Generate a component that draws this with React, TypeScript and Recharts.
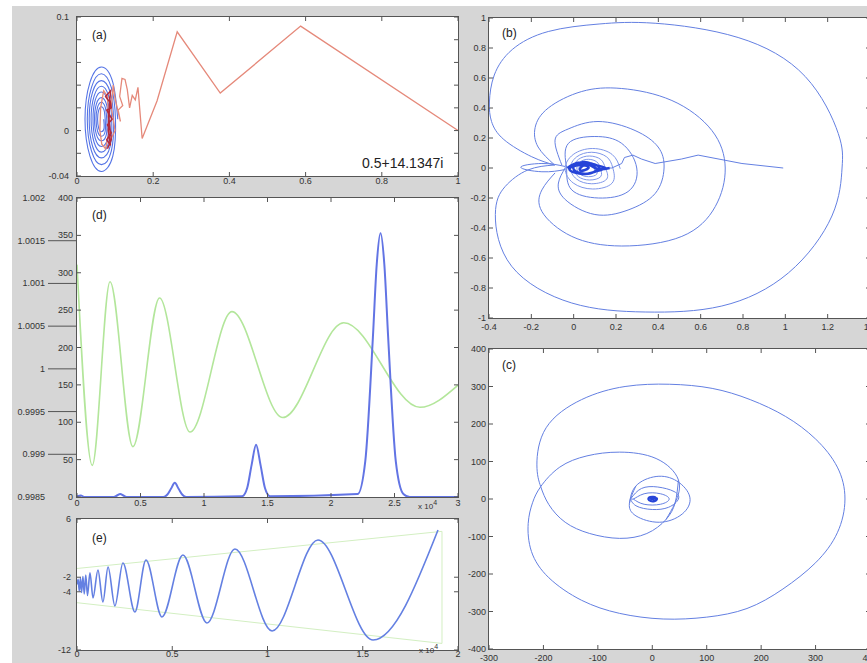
import React from 'react';
import { LineChart, Line, XAxis, YAxis } from 'recharts';

// ---------- data ----------
type Pt = { x: number; y: number };
const toPts = (arr: number[][]): Pt[] => arr.map(([x, y]) => ({ x, y }));

// (a) partial-sum path at s = 0.5+14.1347i
const aSpiral: number[][] = [
  [0.107, 0.010], [0.094, 0.0425], [0.064, 0.056], [0.034, 0.0425], [0.021, 0.010], [0.034, -0.0225], [0.064, -0.036], [0.094, -0.0225],
  [0.101, 0.010], [0.090, 0.038], [0.064, 0.050], [0.038, 0.038], [0.027, 0.010], [0.038, -0.018], [0.064, -0.030], [0.090, -0.018],
  [0.096, 0.010], [0.087, 0.034], [0.064, 0.044], [0.041, 0.034], [0.032, 0.010], [0.041, -0.014], [0.064, -0.024], [0.087, -0.014],
  [0.091, 0.010], [0.083, 0.0305], [0.064, 0.039], [0.045, 0.0305], [0.037, 0.010], [0.045, -0.0105], [0.064, -0.019], [0.083, -0.0105],
  [0.086, 0.010], [0.080, 0.027], [0.064, 0.034], [0.048, 0.027], [0.042, 0.010], [0.048, -0.007], [0.064, -0.014], [0.080, -0.007],
  [0.082, 0.010], [0.077, 0.0235], [0.064, 0.029], [0.051, 0.0235], [0.046, 0.010], [0.051, -0.0035], [0.064, -0.009], [0.077, -0.0035],
  [0.078, 0.010], [0.074, 0.0206], [0.064, 0.025], [0.054, 0.0206], [0.050, 0.010], [0.054, -0.0006], [0.064, -0.005], [0.074, -0.0006],
  [0.074, 0.010], [0.071, 0.018], [0.064, 0.021], [0.057, 0.018], [0.054, 0.010], [0.057, 0.002], [0.064, -0.001], [0.071, 0.002], [0.070, 0.010],
];
const aPath: number[][] = [
  [1.0, 0.0], [0.587, 0.092], [0.376, 0.033], [0.263, 0.087], [0.21, 0.026], [0.171, -0.007], [0.16, 0.038],
  [0.153, 0.027], [0.145, 0.031], [0.138, 0.02], [0.132, 0.036], [0.126, 0.045], [0.118, 0.046], [0.112, 0.03],
  [0.12, 0.022], [0.108, 0.018], [0.114, 0.008], [0.1, 0.028], [0.095, 0.04], [0.09, 0.02], [0.1, 0.0],
  [0.085, -0.01], [0.08, 0.03], [0.07, 0.035], [0.062, 0.02], [0.06, 0.0], [0.065, -0.012], [0.075, -0.016], [0.085, 0.0],
];
const aCore: number[][] = [
  [0.085, 0.03], [0.09, 0.02], [0.078, 0.018], [0.092, 0.01], [0.08, 0.005], [0.09, -0.002], [0.078, -0.008],
  [0.088, -0.013], [0.082, 0.0], [0.086, 0.025], [0.075, 0.03], [0.088, 0.035], [0.083, 0.012], [0.09, -0.008], [0.08, -0.016],
];
const aXTicks = [0, 0.2, 0.4, 0.6, 0.8, 1];
const aXLabels = ['0', '0.2', '0.4', '0.6', '0.8', '1'];
const aYTicks = [-0.04, -0.02, 0, 0.02, 0.04, 0.06, 0.08, 0.1];
const aYLabels = ['-0.04', '', '0', '', '', '', '', '0.1'];

// (b) nested loops of zeta on the unit scale
const bStart: number[][] = [
  [0.99, 0], [0.795, 0.03], [0.588, 0.086], [0.51, 0.06], [0.385, 0.03], [0.32, 0.06], [0.28, 0.086],
  [0.24, 0.07], [0.227, 0.03], [0.18, 0.0], [0.14, 0.0],
];
const bLoop1: number[][] = [
  [-0.09, 0.02], [-0.198, 0.075], [-0.33, 0.19], [-0.388, 0.31], [-0.398, 0.44], [-0.375, 0.62], [-0.29, 0.79],
  [-0.12, 0.91], [0.12, 0.96], [0.385, 0.965], [0.777, 0.87], [1.094, 0.61], [1.25, 0.23], [1.268, 0], [1.22, -0.32],
  [1.014, -0.70], [0.70, -0.92], [0.338, -0.96], [-0.009, -0.90], [-0.293, -0.655], [-0.37, -0.31],
  [-0.324, -0.124], [-0.216, -0.013], [-0.09, 0.02],
];
const bLoop2: number[][] = [
  [-0.09, 0.02], [-0.168, 0.14], [-0.182, 0.27], [-0.12, 0.40], [0.038, 0.51], [0.227, 0.53], [0.464, 0.45],
  [0.653, 0.25], [0.716, 0], [0.669, -0.257], [0.511, -0.456], [0.227, -0.52], [-0.009, -0.456],
  [-0.15, -0.29], [-0.15, -0.146], [-0.088, -0.033],
];
const bLoop3: number[][] = [
  [-0.056, 0.02], [-0.088, 0.186], [-0.026, 0.26], [0.115, 0.31], [0.29, 0.25], [0.399, 0.14], [0.427, 0],
  [0.385, -0.17], [0.257, -0.28], [0.1, -0.31], [-0.04, -0.21], [-0.072, -0.10], [-0.04, 0.0],
];
const bLoop4: number[][] = [
  [-0.033, 0], [-0.025, 0.164], [0.1, 0.21], [0.227, 0.164], [0.298, 0], [0.257, -0.157], [0.117, -0.20],
  [-0.009, -0.146], [-0.033, 0],
];
const bInner: number[][] = [
  [0.22, -0.005], [0.182, 0.09], [0.09, 0.13], [-0.002, 0.09], [-0.04, -0.005], [-0.002, -0.1], [0.09, -0.14], [0.182, -0.1],
  [0.185, 0], [0.156, 0.074], [0.085, 0.105], [0.014, 0.074], [-0.015, 0], [0.014, -0.074], [0.085, -0.105], [0.156, -0.074],
  [0.15, 0], [0.128, 0.057], [0.075, 0.08], [0.022, 0.057], [0.0, 0], [0.022, -0.057], [0.075, -0.08], [0.128, -0.057],
  [0.125, 0], [0.109, 0.041], [0.07, 0.058], [0.031, 0.041], [0.015, 0], [0.031, -0.041], [0.07, -0.058], [0.109, -0.041],
  [0.105, 0], [0.093, 0.028], [0.065, 0.04], [0.037, 0.028], [0.025, 0], [0.037, -0.028], [0.065, -0.04], [0.093, -0.028], [0.1, 0],
];
const bLeft: number[][] = [[-0.04, 0.01], [-0.15, 0.03], [-0.25, 0.005], [-0.15, -0.025], [-0.04, -0.01]];
const bCore: number[][] = [
  [-0.03, 0.0], [0.02, 0.035], [0.08, 0.03], [0.12, 0.005], [0.08, -0.035], [0.02, -0.03], [0.0, 0.01],
  [0.05, 0.04], [0.1, 0.02], [0.15, 0.0], [0.1, -0.025], [0.04, -0.04], [-0.02, -0.01], [0.03, 0.02],
  [0.07, 0.0], [0.03, -0.015], [0.06, 0.025], [0.11, -0.005], [0.17, 0.0],
];
const bXTicks = [-0.4, -0.2, 0, 0.2, 0.4, 0.6, 0.8, 1, 1.2, 1.4];
const bXLabels = ['-0.4', '-0.2', '0', '0.2', '0.4', '0.6', '0.8', '1', '1.2', '1.4'];
const bYTicks = [-1, -0.8, -0.6, -0.4, -0.2, 0, 0.2, 0.4, 0.6, 0.8, 1];
const bYLabels = ['-1', '-0.8', '-0.6', '-0.4', '-0.2', '0', '0.2', '0.4', '0.6', '0.8', '1'];

// (c) the same curve at a larger scale
const cMain: number[][] = [
  [48, 51], [42, -10], [25, -55], [-10, -92], [-60, -105], [-115, -92], [-160, -62], [-190, -15], [-205, 33],
  [-212, 91], [-195, 190], [-130, 265], [-50, 300], [32, 306], [110, 295], [180, 265], [245, 220], [300, 160],
  [340, 85], [354, 0], [340, -90], [300, -170], [240, -240], [174, -292], [100, -315], [20, -320], [-60, -305],
  [-130, -270], [-190, -210], [-222, -140], [-228, -65], [-220, -10], [-205, 33], [-170, 85], [-120, 115],
  [-60, 125], [7, 108], [48, 51], [42, -10], [25, -55],
];
const cMid: number[][] = [
  [-42, -12], [-30, 35], [7, 60], [45, 48], [69, 5], [55, -40], [13, -62], [-30, -45], [-42, -12], [-30, 35],
];
const cEye: number[][] = [
  [-40, 0], [-20, 28], [10, 32], [40, 20], [48, 0], [30, -22], [0, -28], [-30, -18], [-40, 0],
  [-35, 0], [-15, 14], [15, 14], [31, 0], [15, -14], [-15, -14], [-35, 0],
];
const cCore: number[][] = [[0, 0], [6, 4], [-4, 5], [-6, -3], [5, -5], [8, 2], [0, 0], [-3, 3], [4, -2]];
const cXTicks = [-300, -200, -100, 0, 100, 200, 300, 400];
const cXLabels = ['-300', '-200', '-100', '0', '100', '200', '300', '400'];
const cYTicks = [-400, -300, -200, -100, 0, 100, 200, 300, 400];
const cYLabels = ['-400', '-300', '-200', '-100', '0', '100', '200', '300', '400'];

// (d) peaks of |zeta|^2 (left scale) and the oscillating ratio (outer scale)
const dGreen: number[][] = [
  [0, 1.00122], [0.12, 0.99887], [0.26, 1.00102], [0.44, 0.99909], [0.65, 1.00083], [0.89, 0.99926],
  [1.22, 1.00067], [1.62, 0.99943], [2.1, 1.00054], [2.7, 0.99955], [3.0, 0.99981],
];
const dBlue: number[][] = [
  [0, 1], [0.03, 2], [0.06, 0], [0.29, 0], [0.315, 2], [0.34, 4], [0.365, 2], [0.39, 0],
  [0.68, 0], [0.71, 3], [0.74, 11], [0.77, 19], [0.80, 11], [0.83, 3], [0.86, 0],
  [1.30, 1], [1.34, 12], [1.375, 43], [1.41, 70], [1.445, 43], [1.48, 12], [1.52, 1],
  [2.21, 4], [2.27, 48], [2.33, 214], [2.36, 311], [2.39, 353], [2.42, 311], [2.45, 214], [2.51, 48], [2.57, 4],
  [2.62, 0], [3.0, 0],
];
const dXTicks = [0, 0.5, 1, 1.5, 2, 2.5, 3];
const dXLabels = ['0', '0.5', '1', '1.5', '2', '2.5', '3'];
const dYTicks = [0, 50, 100, 150, 200, 250, 300, 350, 400];
const dYLabels = ['0', '50', '100', '150', '200', '250', '300', '350', '400'];
const dOuterTicks = [0.9985, 0.999, 0.9995, 1, 1.0005, 1.001, 1.0015, 1.002];
const dOuterLabels = ['0.9985', '0.999', '0.9995', '1', '1.0005', '1.001', '1.0015', '1.002'];

// (e) growing oscillation with its envelope
const eWave: number[][] = [
  [0, -3.0], [0.006, -2.3], [0.012, -3.9], [0.018, -2.1], [0.024, -4.1], [0.031, -1.9], [0.038, -4.3],
  [0.046, -1.7], [0.055, -4.5], [0.068, -1.4], [0.084, -4.85], [0.110, -1.0], [0.136, -5.4], [0.163, -0.59],
  [0.199, -5.95], [0.241, -0.04], [0.304, -6.77], [0.362, 0.37], [0.446, -7.46], [0.556, 1.05], [0.682, -8.29],
  [0.829, 1.88], [1.024, -9.38], [1.265, 3.12], [1.554, -10.62], [1.895, 4.49],
];
const eEnvelope: number[][] = [[0, -0.8], [1.916, 4.3], [1.916, -11.1], [0, -5.5]];
const eXTicks = [0, 0.5, 1, 1.5, 2];
const eXLabels = ['0', '0.5', '1', '1.5', '2'];
const eYTicks = [-12, -4, -2, 6];
const eYLabels = ['-12', '-4', '-2', '6'];

// ---------- styling ----------
const FONT = '"Liberation Sans", Arial, Helvetica, sans-serif';
const FRAME = '#555';
const TEXT = '#333';
const BG = '#d6d6d6';
const BLUE = '#6480e2';
const BLUE_DARK = '#2644d8';
const GREEN = '#b3e69b';
const GREEN_FAINT = '#d3efc2';
const RED = '#e5897a';
const RED_DARK = '#b22a3c';

const PADL = 72, PADT = 10, PADR = 8, PADB = 18;

type Curve = 'linear' | 'natural' | 'monotone';
interface SeriesDef { name: string; data: number[][]; color: string; width: number; curve: Curve; axis?: string }
interface OuterAxis { domain: [number, number]; ticks: number[]; labels: string[] }
interface PanelDef {
  plot: { x: number; y: number; w: number; h: number };
  xDomain: [number, number]; yDomain: [number, number];
  xTicks: number[]; xLabels: string[];
  yTicks: number[]; yLabels: string[];
  xLabelDy: number; yLabelGap: number;
  series: SeriesDef[];
  outer?: OuterAxis;
}

const labelFor = (ticks: number[], labels: string[], v: number) => {
  const i = ticks.findIndex((t) => Math.abs(t - v) < 1e-9);
  return i >= 0 ? labels[i] : '';
};

function Panel({ def }: { def: PanelDef }) {
  const { plot } = def;
  const width = PADL + plot.w + PADR;
  const height = PADT + plot.h + PADB;
  const left = plot.x - PADL;
  const top = plot.y - PADT;
  const pTop = PADT, pBottom = PADT + plot.h, pLeft = PADL, pRight = PADL + plot.w;

  const xTick = (p: any) => {
    const x = p.x;
    return (
      <g>
        <line x1={x} x2={x} y1={pBottom} y2={pBottom - 4} stroke={FRAME} />
        <line x1={x} x2={x} y1={pTop} y2={pTop + 4} stroke={FRAME} />
        <text x={x} y={pBottom + def.xLabelDy + 3} textAnchor="middle" fontSize={9} fontFamily={FONT} fill={TEXT}>
          {labelFor(def.xTicks, def.xLabels, p.payload.value)}
        </text>
      </g>
    );
  };
  const yTick = (p: any) => {
    const y = p.y;
    return (
      <g>
        <line x1={pLeft} x2={pLeft + 4} y1={y} y2={y} stroke={FRAME} />
        <line x1={pRight} x2={pRight - 4} y1={y} y2={y} stroke={FRAME} />
        <text x={pLeft - def.yLabelGap} y={y + 3} textAnchor="end" fontSize={9} fontFamily={FONT} fill={TEXT}>
          {labelFor(def.yTicks, def.yLabels, p.payload.value)}
        </text>
      </g>
    );
  };
  const outerTick = (p: any) => {
    const o = def.outer!;
    const y = p.y;
    const v = p.payload.value;
    const edge = Math.abs(v - o.domain[0]) < 1e-9 || Math.abs(v - o.domain[1]) < 1e-9;
    return (
      <g>
        {!edge && <line x1={43} x2={pLeft} y1={y} y2={y} stroke={FRAME} />}
        <text x={40} y={y + 3} textAnchor="end" fontSize={9} fontFamily={FONT} fill={TEXT}>
          {labelFor(o.ticks, o.labels, v)}
        </text>
      </g>
    );
  };

  return (
    <>
      <div style={{ position: 'absolute', left: plot.x, top: plot.y, width: plot.w, height: plot.h, background: '#fff' }} />
      <div style={{ position: 'absolute', left, top, width, height }}>
        <LineChart width={width} height={height} margin={{ top: PADT, right: PADR, left: 0, bottom: 0 }}>
          <XAxis type="number" dataKey="x" domain={def.xDomain} ticks={def.xTicks} interval={0} allowDataOverflow
            axisLine={false} tickLine={false} height={PADB} tick={xTick} />
          <YAxis yAxisId="main" type="number" domain={def.yDomain} ticks={def.yTicks} interval={0} allowDataOverflow
            axisLine={false} tickLine={false} width={def.outer ? PADL - 1 : PADL} tick={yTick} />
          {def.outer && (
            <YAxis yAxisId="outer" type="number" domain={def.outer.domain} ticks={def.outer.ticks} interval={0} allowDataOverflow
              axisLine={false} tickLine={false} width={1} tick={outerTick} />
          )}
          {def.series.map((s) => (
            <Line key={s.name} yAxisId={s.axis ?? 'main'} data={toPts(s.data)} dataKey="y" type={s.curve}
              stroke={s.color} strokeWidth={s.width} dot={false} activeDot={false} isAnimationActive={false} />
          ))}
        </LineChart>
      </div>
      <div style={{ position: 'absolute', left: plot.x - 1, top: plot.y - 1, width: plot.w + 2, height: plot.h + 2,
        border: `1px solid ${FRAME}`, boxSizing: 'border-box', pointerEvents: 'none' }} />
    </>
  );
}

const panelA: PanelDef = {
  plot: { x: 77, y: 17, w: 381, h: 159 },
  xDomain: [0, 1], yDomain: [-0.04, 0.1],
  xTicks: aXTicks, xLabels: aXLabels, yTicks: aYTicks, yLabels: aYLabels,
  xLabelDy: 5, yLabelGap: 8,
  series: [
    { name: 'spiral', data: aSpiral, color: '#5574e6', width: 1.1, curve: 'natural' },
    { name: 'path', data: aPath, color: RED, width: 1.3, curve: 'linear' },
    { name: 'core', data: aCore, color: RED_DARK, width: 1.5, curve: 'linear' },
  ],
};

const panelB: PanelDef = {
  plot: { x: 489, y: 18, w: 381, h: 300 },
  xDomain: [-0.4, 1.4], yDomain: [-1, 1],
  xTicks: bXTicks, xLabels: bXLabels, yTicks: bYTicks, yLabels: bYLabels,
  xLabelDy: 9, yLabelGap: 3,
  series: [
    { name: 'loop1', data: bLoop1, color: BLUE, width: 1, curve: 'natural' },
    { name: 'loop2', data: bLoop2, color: BLUE, width: 1, curve: 'natural' },
    { name: 'loop3', data: bLoop3, color: BLUE, width: 1, curve: 'natural' },
    { name: 'loop4', data: bLoop4, color: BLUE, width: 1, curve: 'natural' },
    { name: 'left', data: bLeft, color: BLUE, width: 1, curve: 'natural' },
    { name: 'inner', data: bInner, color: '#7f97ea', width: 1, curve: 'natural' },
    { name: 'start', data: bStart, color: BLUE, width: 1, curve: 'linear' },
    { name: 'core', data: bCore, color: BLUE_DARK, width: 2.5, curve: 'natural' },
  ],
};

const panelC: PanelDef = {
  plot: { x: 489, y: 349, w: 381, h: 300 },
  xDomain: [-300, 400], yDomain: [-400, 400],
  xTicks: cXTicks, xLabels: cXLabels, yTicks: cYTicks, yLabels: cYLabels,
  xLabelDy: 9, yLabelGap: 3,
  series: [
    { name: 'main', data: cMain, color: BLUE, width: 1, curve: 'natural' },
    { name: 'mid', data: cMid, color: BLUE, width: 1, curve: 'natural' },
    { name: 'eye', data: cEye, color: BLUE, width: 1, curve: 'natural' },
    { name: 'core', data: cCore, color: BLUE_DARK, width: 2.2, curve: 'natural' },
  ],
};

const panelD: PanelDef = {
  plot: { x: 77, y: 198, w: 381, h: 299 },
  xDomain: [0, 3], yDomain: [0, 400],
  xTicks: dXTicks, xLabels: dXLabels, yTicks: dYTicks, yLabels: dYLabels,
  xLabelDy: 6, yLabelGap: 4,
  outer: { domain: [0.9985, 1.002], ticks: dOuterTicks, labels: dOuterLabels },
  series: [
    { name: 'ratio', data: dGreen, color: GREEN, width: 1.6, curve: 'monotone', axis: 'outer' },
    { name: 'peaks', data: dBlue, color: '#6274e4', width: 2, curve: 'monotone' },
  ],
};

const panelE: PanelDef = {
  plot: { x: 77, y: 519, w: 381, h: 131 },
  xDomain: [0, 2], yDomain: [-12, 6],
  xTicks: eXTicks, xLabels: eXLabels, yTicks: eYTicks, yLabels: eYLabels,
  xLabelDy: 4, yLabelGap: 6,
  series: [
    { name: 'envelope', data: eEnvelope, color: GREEN_FAINT, width: 1, curve: 'linear' },
    { name: 'wave', data: eWave, color: BLUE, width: 1.6, curve: 'monotone' },
  ],
};

const tag = (text: string, x: number, y: number, size = 12) => (
  <div style={{ position: 'absolute', left: x, top: y, fontFamily: FONT, fontSize: size, color: '#222', lineHeight: 1, whiteSpace: 'nowrap' }}>
    {text}
  </div>
);

const scaleNote = (x: number, y: number) => (
  <div style={{ position: 'absolute', left: x, top: y, fontFamily: FONT, fontSize: 8, color: TEXT, lineHeight: 1, whiteSpace: 'nowrap' }}>
    x 10<sup style={{ fontSize: 7, verticalAlign: 'top', position: 'relative', top: -4 }}>4</sup>
  </div>
);

export default function App() {
  return (
    <div style={{ position: 'fixed', left: 0, top: 0, width: 867, height: 663, background: '#fff', overflow: 'hidden' }}>
      <div style={{ position: 'absolute', left: 12, top: 6, right: 0, bottom: 0, background: BG }} />
      <Panel def={panelA} />
      <Panel def={panelD} />
      <Panel def={panelE} />
      <Panel def={panelB} />
      <Panel def={panelC} />
      {tag('(a)', 92, 29)}
      {tag('(b)', 502, 27)}
      {tag('(c)', 502, 359)}
      {tag('(d)', 92, 209)}
      {tag('(e)', 92, 532)}
      {tag('0.5+14.1347i', 362, 156, 14)}
      {scaleNote(418, 503)}
      {scaleNote(419, 647)}
    </div>
  );
}
